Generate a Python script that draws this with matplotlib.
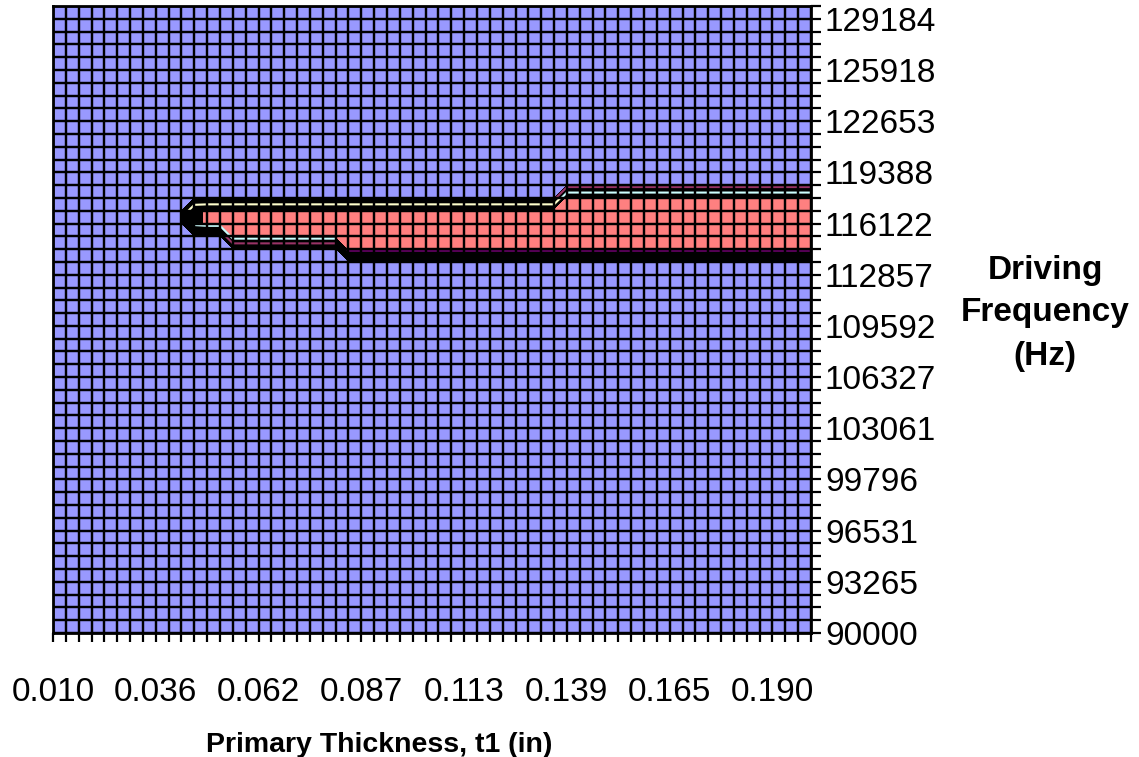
import numpy as np
import matplotlib
matplotlib.use("Agg")
import matplotlib.pyplot as plt

plt.rcParams["font.family"] = ["Liberation Sans", "DejaVu Sans"]

# Sweep grid: primary thickness (in) by driving frequency (Hz)
thickness = np.linspace(0.010, 0.200, 60)
frequency = np.linspace(90000, 130000, 50)

x_tick_labels = ["0.010", "0.036", "0.062", "0.087", "0.113", "0.139", "0.165", "0.190"]
y_tick_labels = ["90000", "93265", "96531", "99796", "103061", "106327", "109592",
                 "112857", "116122", "119388", "122653", "125918", "129184"]
x_label_step = 8
y_label_step = 4

# Resonance band: column span, row span and normalised response level
res_col_first = [11, 12, 14, 23, 40]
res_col_last = [11, 13, 22, 39, 59]
res_row_low = [32, 32, 31, 30, 30]
res_row_high = [33, 33, 33, 33, 34]
res_level = [0.93, 1.0, 1.0, 1.0, 1.0]

response = np.zeros((len(frequency), len(thickness)))
for c0, c1, r0, r1, v in zip(res_col_first, res_col_last, res_row_low, res_row_high, res_level):
    response[r0:r1 + 1, c0:c1 + 1] = v

BLUE = "#9999FF"
RED = "#FF8080"

W, H = 1139, 757
fig = plt.figure(figsize=(W / 100, H / 100), dpi=100)
ax = fig.add_axes([53 / W, 1 - 633 / H, (811 - 53) / W, (633 - 6) / H])

ax.contourf(thickness, frequency, response, levels=[-1, 0.03, 0.98, 2],
            colors=[BLUE, "black", RED])

# Thin band-edge stripes inside the dark transition zones
stripes = [
    (slice(10, 41), slice(33, 35), 0.50, "#FFFFCC"),
    (slice(39, 60), slice(34, 36), 0.58, "#CCFFFF"),
    (slice(39, 60), slice(34, 36), 0.15, "#993366"),
    (slice(10, 23), slice(30, 33), 0.82, "#CCFFFF"),
    (slice(13, 23), slice(30, 32), 0.45, "#993366"),
    (slice(22, 60), slice(29, 31), 0.87, "#660066"),
]
for cols, rows, level, colour in stripes:
    ax.contour(thickness[cols], frequency[rows], response[rows, cols],
               levels=[level], colors=[colour], linewidths=1.5)

ax.set_xlim(thickness[0], thickness[-1])
ax.set_ylim(frequency[0], frequency[-1])

xl = [""] * len(thickness)
for k, lab in enumerate(x_tick_labels):
    xl[k * x_label_step] = lab
yl = [""] * len(frequency)
for k, lab in enumerate(y_tick_labels):
    yl[k * y_label_step] = lab

ax.set_xticks(thickness)
ax.set_xticklabels(xl)
ax.set_yticks(frequency)
ax.set_yticklabels(yl)
ax.yaxis.tick_right()

ax.set_axisbelow(False)
ax.grid(True, color="black", linewidth=1.75)
for s in ax.spines.values():
    s.set_linewidth(2.0)
    s.set_color("black")

ax.tick_params(axis="x", direction="out", length=6.5, width=1.6, labelsize=24,
               pad=25, colors="black")
ax.tick_params(axis="y", direction="out", length=7, width=1.6, labelsize=24,
               pad=3, colors="black", left=False, right=True)

fig.text(1045 / W, 1 - 313 / H, "Driving\nFrequency\n(Hz)", ha="center", va="center",
         fontsize=24, fontweight="bold", linespacing=1.5)
fig.text(379 / W, 1 - 745 / H, "Primary Thickness, t1 (in)", ha="center", va="center",
         fontsize=20.5, fontweight="bold")

fig.savefig("out.png", dpi=100)
